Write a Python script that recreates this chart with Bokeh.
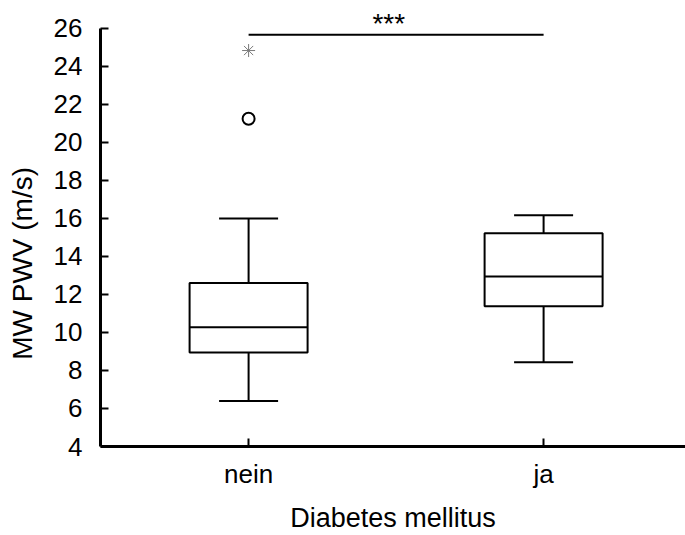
from bokeh.plotting import figure
from bokeh.models import FixedTicker, LinearAxis, ColumnDataSource
from bokeh.core.properties import value
from bokeh.embed import file_html
from bokeh.resources import INLINE

# Pulse wave velocity by diabetes status
categories = ["nein", "ja"]
whisker_low = [6.4, 8.44]
q1 = [8.95, 11.38]
median = [10.28, 12.95]
q3 = [12.6, 15.23]
whisker_high = [16.0, 16.17]

# outliers (circle) and extreme values (asterisk)
outlier_cat = ["nein"]
outlier_val = [21.25]
extreme_cat = ["nein"]
extreme_val = [24.84]

# significance bracket between groups
sig_from, sig_to = "nein", "ja"
sig_level = 25.67
sig_text = "***"

y_ticks = list(range(4, 27, 2))
y_min, y_max = 4, 26

FONT = "Liberation Sans"
pos = {c: i + 1 for i, c in enumerate(categories)}
xs = [pos[c] for c in categories]
box_half = 0.2
cap_half = 0.1

p = figure(width=685, height=535, output_backend="svg", toolbar_location=None,
           x_range=(0.498, 2.481), y_range=(y_min, 27.368),
           min_border_left=100, min_border_right=0, min_border_top=2,
           min_border_bottom=89, background_fill_color="white",
           border_fill_color="white", outline_line_color=None)
p.xgrid.visible = False
p.ygrid.visible = False

src = ColumnDataSource(dict(
    x=xs,
    left=[x - box_half for x in xs], right=[x + box_half for x in xs],
    cl=[x - cap_half for x in xs], cr=[x + cap_half for x in xs],
    lo=whisker_low, q1=q1, med=median, q3=q3, hi=whisker_high))

# whiskers and caps
p.segment("x", "lo", "x", "q1", source=src, line_color="black", line_width=2)
p.segment("x", "q3", "x", "hi", source=src, line_color="black", line_width=2)
p.segment("cl", "lo", "cr", "lo", source=src, line_color="black", line_width=2)
p.segment("cl", "hi", "cr", "hi", source=src, line_color="black", line_width=2)
# boxes and medians
p.quad(left="left", right="right", bottom="q1", top="q3", source=src,
       fill_color="white", line_color="black", line_width=2)
p.segment("left", "med", "right", "med", source=src, line_color="black", line_width=2)

p.scatter([pos[c] for c in outlier_cat], outlier_val, marker="circle", size=12,
          fill_color="white", line_color="black", line_width=2)
p.scatter([pos[c] for c in extreme_cat], extreme_val, marker="asterisk", size=13,
          line_color="#7a7a7a", line_width=1)

# significance line and stars
p.segment([pos[sig_from]], [sig_level], [pos[sig_to]], [sig_level],
          line_color="black", line_width=2)
p.text(x=[(pos[sig_from] + pos[sig_to]) / 2 - 0.025], y=[26.27], text=[sig_text],
       text_font=value(FONT), text_font_size="28px", text_align="center",
       text_baseline="alphabetic", text_color="black")

# axes
for ax in (p.xaxis[0], p.yaxis[0]):
    ax.axis_line_width = 3
    ax.axis_line_color = "black"
    ax.major_tick_line_width = 2
    ax.major_tick_in = 8
    ax.major_tick_out = 0
    ax.minor_tick_line_color = None
    ax.major_label_text_font = FONT
    ax.major_label_text_font_size = "26px"
    ax.major_label_text_color = "black"

p.yaxis.ticker = FixedTicker(ticks=y_ticks)
p.yaxis.bounds = (y_min, y_max)
p.yaxis.major_label_standoff = 18
p.xaxis.ticker = FixedTicker(ticks=xs)
p.xaxis.major_label_overrides = {x: c for x, c in zip(xs, categories)}
p.xaxis.major_label_standoff = 12
p.xaxis.axis_label = "Diabetes mellitus"
p.xaxis.axis_label_standoff = 11
p.xaxis.axis_label_text_font = FONT
p.xaxis.axis_label_text_font_size = "27px"
p.xaxis.axis_label_text_font_style = "normal"
p.xaxis.axis_label_text_color = "black"

# outer left axis carrying only the y title; trailing no-break spaces
# move the visible text down towards the lower part of the axis
title_axis = LinearAxis(ticker=FixedTicker(ticks=[]),
                        axis_line_color=None, major_tick_line_color=None,
                        minor_tick_line_color=None,
                        axis_label="MW PWV (m/s)" + "\u00a0" * 10,
                        axis_label_standoff=13,
                        axis_label_text_font=FONT, axis_label_text_font_size="28px",
                        axis_label_text_font_style="normal",
                        axis_label_text_color="black")
p.add_layout(title_axis, "left")

open("out.html", "w").write(file_html(p, INLINE))
